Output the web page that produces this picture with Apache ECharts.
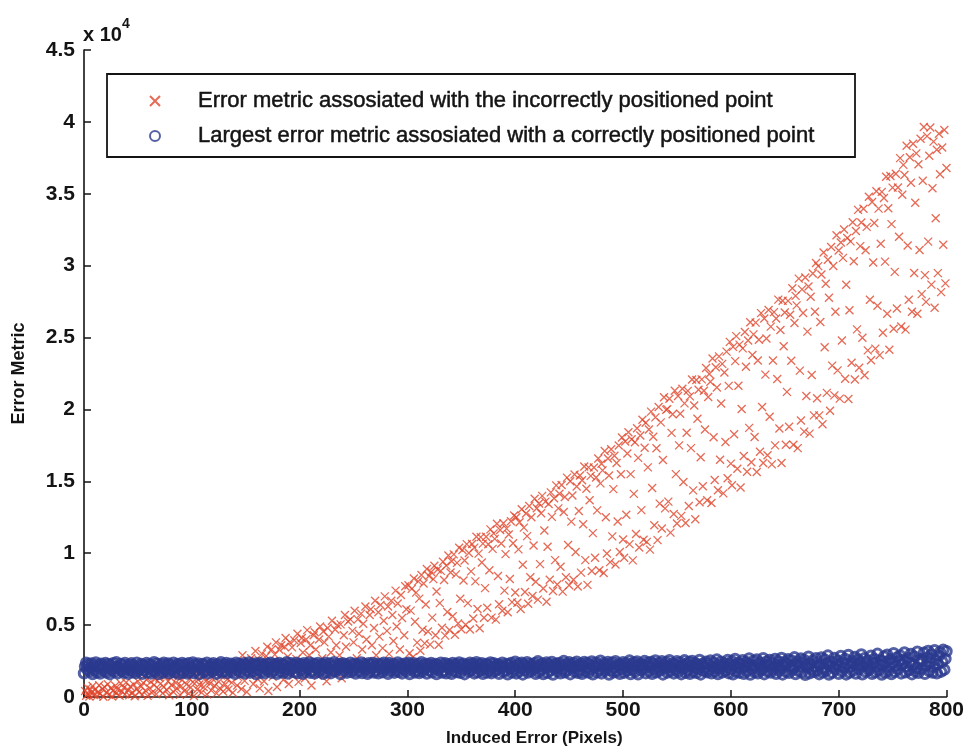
<!DOCTYPE html>
<html>
<head>
<meta charset="utf-8">
<script src="https://cdn.jsdelivr.net/npm/echarts@6/dist/echarts.min.js"></script>
<style>
  html, body { margin: 0; padding: 0; background: #fff; }
  #chart { width: 967px; height: 756px; }
</style>
</head>
<body>
<div id="chart"></div>
<script>
// Induced error (pixels) vs. error metric for the incorrectly positioned point
const redNearZero = [[1,420],[2,90],[3,650],[4,210],[5,30],[6,520],[7,310],[8,760],[9,140],[10,480],[12,60],[13,350],[14,820],[15,230],[17,560],[18,20],[19,700],[21,330],[22,890],[23,150],[25,610],[26,40],[27,430],[29,780],[30,260],[31,520],[33,90],[34,960],[35,380],[37,640],[38,180],[39,1010],[41,470],[42,120],[43,730],[45,290],[46,880],[47,50],[49,560],[50,1100],[51,340],[53,720],[54,160],[55,980],[57,450],[58,1200],[59,80],[61,620],[62,1050],[63,300],[65,840],[66,1250],[67,190],[69,560],[70,1330],[71,930],[73,260],[74,700],[75,1420],[77,480],[78,1100],[79,120],[81,830],[82,1500],[83,350],[85,990],[86,610],[87,1380],[89,150],[90,760],[91,1180],[93,420],[94,1560],[95,880],[97,240],[98,1260],[99,660],[101,1040],[102,70],[103,1610],[105,520],[106,1200],[107,870],[109,310],[110,1420],[111,690],[113,1100],[114,180],[115,1700],[117,940],[118,460],[119,1290],[121,780],[122,1850],[123,250],[125,1060],[126,620],[127,1500],[129,380],[130,1900],[131,870],[133,1230],[134,520],[135,2050],[137,1000],[138,300],[139,1700]];

const redRising = [[141,2150],[142,800],[143,1380],[145,2100],[146,560],[147,2900],[149,1120],[150,2250],[151,350],[153,2500],[154,1500],[155,2700],[157,900],[158,2350],[159,3200],[161,1250],[162,2600],[163,600],[165,3000],[166,2050],[167,1100],[169,2850],[170,3500],[171,420],[173,2250],[174,3300],[175,1400],[177,2950],[178,3800],[179,700],[181,3300],[182,2450],[183,3600],[185,1200],[186,3500],[187,4100],[189,2800],[190,900],[191,3800],[193,3450],[194,1500],[195,3950],[197,2650],[198,4400],[199,1050],[201,3750],[202,4100],[203,3100],[205,1300],[206,4000],[207,4650],[209,2900],[210,3600],[211,800],[213,4300],[214,4500],[215,3300],[217,1500],[218,4000],[219,4900],[221,2700],[222,4550],[223,3800],[225,1100],[226,4800],[227,4200],[229,3100],[230,5300],[231,1700],[233,4700],[234,3600],[235,5000],[237,2900],[238,5050],[239,1300],[241,4300],[242,5700],[243,3500],[245,5250],[246,2100],[247,5400],[249,4600],[250,3800],[251,6000],[253,2700],[254,5400],[255,4400],[257,5800],[258,3300],[259,5100],[261,6300],[262,4000],[263,2500],[265,5700],[266,6100],[267,3600],[269,4800],[270,6700],[271,2900],[273,5900],[274,4200],[275,6400],[277,3400],[278,5300],[279,7000],[281,4600],[282,6300],[283,3000],[285,6700],[286,5700],[287,3900],[289,7400],[290,4900],[291,6500],[293,3300],[294,7100],[295,5500],[297,4300],[298,7700],[299,6100]];

const redMidWedge = [[301,7770],[302,3040],[303,6010],[304,7520],[305,2770],[306,8240],[307,5230],[308,7260],[309,3780],[310,8040],[311,6840],[312,3220],[313,8480],[314,4680],[315,7890],[316,3730],[317,6430],[318,8900],[319,4550],[320,8420],
[321,3640],[322,8690],[323,5520],[324,8200],[325,9130],[326,4290],[327,7340],[328,8870],[329,3630],[330,6530],[331,8770],[332,4820],[333,9410],[334,8140],[335,4270],[336,9140],[337,5910],[338,9840],[339,4660],[340,8660],
[341,9440],[342,5620],[343,9920],[344,4330],[345,8530],[346,9330],[347,5110],[348,10380],[349,6830],[350,4710],[351,10220],[352,8100],[353,9490],[354,5030],[355,10630],[356,6530],[357,10020],[358,4700],[359,8740],[360,10640],
[361,5460],[362,10390],[363,8040],[364,11150],[365,6120],[366,9970],[367,4780],[368,11120],[369,9350],[370,10670],[371,5510],[372,7570],[373,11140],[374,6210],[375,10620],[376,8810],[377,11660],[378,5520],[379,10300],[380,11380],
[381,11000],[382,5380],[383,12050],[384,8420],[385,6450],[386,11620],[387,10680],[388,6000],[389,12080],[390,7400],[391,9940],[392,11710],[393,5900],[394,11300],[395,8210],[396,12220],[397,6600],[398,10690],[399,12620],[400,7270],
[401,12500],[402,6550],[403,10270],[404,12160],[405,6120],[406,13060],[407,9200],[408,11780],[409,7300],[410,12760],[411,11190],[412,6490],[413,13290],[414,8330],[415,12500],[416,7030],[417,10540],[418,13790],[419,8020],[420,13130],
[421,6770],[422,13460],[423,9240],[424,12780],[425,13990],[426,7550],[427,11580],[428,13590],[429,6630],[430,10450],[431,13420],[432,8150],[433,14230],[434,12530],[435,7370],[436,13820],[437,9520],[438,14720],[439,7820],[440,13120],
[441,14140],[442,9060],[443,14740],[444,7330],[445,12870],[446,13910],[447,8330],[448,15260],[449,10570],[450,7770],[451,15000],[452,12200],[453,14010],[454,8150],[455,15470],[456,10090],[457,14640],[458,7680],[459,12940],[460,15400],
[461,8650],[462,15070],[463,12020],[464,16030],[465,9520],[466,14490],[467,7800],[468,15970],[469,13680],[470,15380],[471,8760],[472,11400],[473,15960],[474,9680],[475,15270],[476,12980],[477,16590],[478,8820],[479,14860],[480,16220],
[481,15760],[482,8630],[483,17110],[484,12500],[485,9980],[486,16590],[487,15410],[488,9380],[489,17230],[490,11170],[491,14460],[492,16780],[493,9210],[494,16270],[495,12210],[496,17490],[497,10090],[498,15490],[499,18050],[500,10950],
[501,9690],[502,17770],[503,12670],[504,16940],[505,18410],[506,10630],[507,15500],[508,17930],[509,9500],[510,14130],[511,17720],[512,11340],[513,18690],[514,16630],[515,10400],[516,18190],[517,13000],[518,19280],[519,10940],[520,17340],
[521,19080],[522,10790],[523,15970],[524,18610],[525,10250],[526,19850],[527,14540],[528,18100],[529,11950],[530,19450],[531,17300],[532,10910],[533,20170],[534,13450],[535,19100],[536,11720],[537,16480],[538,20850],[539,13120],[540,19970],
[541,20020],[542,13590],[543,20740],[544,11430],[545,18370],[546,19660],[547,12730],[548,21300],[549,15500],[550,12070],[551,20940],[552,17500],[553,19700],[554,12600],[555,21440],[556,14950],[557,20420],[558,12100],[559,18380],[560,21290]];

const redUpperWedge = [[561,13290],[562,20910],[563,17310],[564,22080],[565,14370],[566,20270],[567,12360],[568,22050],[569,19350],[570,21370],[571,13540],[572,16680],[573,22090],[574,14660],[575,21300],[576,18600],[577,22880],[578,13690],[579,20860],[580,22470],
[581,21930],[582,13490],[583,23540],[584,18070],[585,15090],[586,22930],[587,21530],[588,14380],[589,23690],[590,16500],[591,20410],[592,23170],[593,14160],[594,22570],[595,17730],[596,24020],[597,15210],[598,21640],[599,24700],[600,16230],
[601,14730],[602,24350],[603,18280],[604,23360],[605,25100],[606,15880],[607,21650],[608,24510],[609,14570],[610,20030],[611,24250],[612,16760],[613,25390],[614,22970],[615,15670],[616,24790],[617,18720],[618,26060],[619,16330],[620,23790],
[621,25220],[622,18080],[623,26040],[624,15650],[625,23410],[626,24850],[627,17060],[628,26700],[629,20170],[630,16280],[631,26320],[632,22420],[633,24930],[634,16810],[635,26920],[636,19490],[637,25760],[638,16180],[639,23410],[640,26770],
[641,17500],[642,26320],[643,22120],[644,27640],[645,18670],[646,25520],[647,16270],[648,27560],[649,24400],[650,26740],[651,17550],[652,21220],[653,27550],[654,18800],[655,26590],[656,23390],[657,28430],[658,17550],[659,26010],[660,27900],
[661,27240],[662,17310],[663,29100],[664,22700],[665,19230],[666,28350],[667,26710],[668,18460],[669,29180],[670,20930],[671,25410],[672,28550],[673,18320],[674,27840],[675,22390],[676,29460],[677,19590],[678,26790],[679,30180],[680,20780],
[681,29970],[682,19590],[683,26080],[684,29380],[685,18970],[686,30920],[687,24330],[688,28740],[689,21150],[690,30410],[691,27770],[692,19910],[693,31300],[694,23050],[695,29980],[696,20980],[697,26790],[698,32120],[699,22720],[700,31050],
[701,20750],[702,31610],[703,24800],[704,30540],[705,32520],[706,22140],[707,28670],[708,31920],[709,20730],[710,26900],[711,31690],[712,23250],[713,33020],[714,30310],[715,22080],[716,32410],[717,25570],[718,33880],[719,22900],[720,31360],
[721,33000],[722,24990],[723,33960],[724,22380],[725,31070],[726,32700],[727,24110],[728,34790],[729,27630],[730,23420],[731,34430],[732,30220],[733,32970],[734,24230],[735,35170],[736,27210],[737,33970],[738,23780],[739,31530],[740,35130],
[741,25330],[742,34710],[743,30280],[744,36190],[745,26660],[746,33990],[747,24150],[748,36240],[749,32890],[750,35430],[751,25610],[752,29570],[753,36390],[754,27020],[755,35440],[756,32010],[757,37480],[758,25770],[759,34930],[760,37010],
[761,36310],[762,25550],[763,38340],[764,31400],[765,27630],[766,37540],[767,35770],[768,26800],[769,38480],[770,29490],[771,34380],[772,37810],[773,26650],[774,37050],[775,31090],[776,38830],[777,28020],[778,35910],[779,39640],[780,29340],
[781,27480],[782,39010],[783,31670],[784,37650],[785,39610],[786,28680],[787,35380],[788,38630],[789,27070],[790,33300],[791,38060],[792,29480],[793,39170],[794,36360],[795,28160],[796,38220],[797,31460],[798,39430],[799,28770],[800,36790]];

// Largest error metric among the correctly positioned points
const blueLeft = [[0,1650],[1,2120],[2,2380],[3,1920],[4,2270],[5,1780],[6,2050],[7,2330],[8,1600],[9,2180],[10,1860],[11,2400],[12,1720],[13,2090],[14,2240],[15,1630],[16,2310],[17,1970],[18,2150],[19,1810],
[20,2360],[21,1700],[22,2010],[23,2280],[24,1590],[25,2200],[26,1890],[27,2350],[28,1750],[29,2060],[30,2410],[31,1640],[32,2130],[33,1990],[34,2290],[35,1820],[36,2220],[37,1680],[38,2370],[39,1930],
[40,2080],[41,1610],[42,2250],[43,1870],[44,2340],[45,1740],[46,2170],[47,2020],[48,1660],[49,2390],[50,1800],[51,2140],[52,1950],[53,2300],[54,1620],[55,2230],[56,1850],[57,2100],[58,2360],[59,1710],
[60,1990],[61,2270],[62,1640],[63,2190],[64,1830],[65,2420],[66,1760],[67,2040],[68,2320],[69,1600],[70,2110],[71,1900],[72,2260],[73,1690],[74,2380],[75,1940],[76,2160],[77,1790],[78,2330],[79,1650],
[80,2230],[81,1880],[82,2060],[83,2390],[84,1720],[85,2150],[86,1980],[87,2300],[88,1610],[89,2210],[90,1840],[91,2370],[92,1700],[93,2090],[94,2270],[95,1920],[96,1630],[97,2350],[98,1780],[99,2120],
[100,2010],[101,2400],[102,1670],[103,2240],[104,1860],[105,2180],[106,2330],[107,1590],[108,2070],[109,1950],[110,2290],[111,1730],[112,2200],[113,1820],[114,2380],[115,1640],[116,2130],[117,2000],[118,2260],[119,1770],
[120,2340],[121,1910],[122,2100],[123,1620],[124,2280],[125,1850],[126,2190],[127,2410],[128,1700],[129,2030],[130,2250],[131,1800],[132,2360],[133,1660],[134,2140],[135,1960],[136,2310],[137,1750],[138,2080],[139,2220],
[140,1610],[141,2390],[142,1880],[143,2050],[144,2300],[145,1720],[146,2170],[147,1990],[148,2350],[149,1640],[150,2230],[151,1830],[152,2120],[153,2400],[154,1690],[155,2000],[156,2270],[157,1790],[158,2160],[159,2330],
[160,1600],[161,2210],[162,1900],[163,2370],[164,1740],[165,2090],[166,2260],[167,1650],[168,2180],[169,1940],[170,2320],[171,1810],[172,2040],[173,2390],[174,1680],[175,2240],[176,1860],[177,2110],[178,2290],[179,1620],
[180,2150],[181,2360],[182,1760],[183,2020],[184,2280],[185,1700],[186,2200],[187,1920],[188,2410],[189,1630],[190,2100],[191,1840],[192,2340],[193,1980],[194,2230],[195,1730],[196,2170],[197,2380],[198,1660],[199,2060],
[200,2300],[201,1870],[202,2190],[203,1610],[204,2350],[205,1790],[206,2080],[207,2250],[208,1950],[209,2400],[210,1680],[211,2140],[212,1820],[213,2310],[214,1640],[215,2220],[216,2010],[217,2370],[218,1750],[219,2120],
[220,1900],[221,2280],[222,1620],[223,2200],[224,2390],[225,1720],[226,2060],[227,1980],[228,2330],[229,1660],[230,2160],[231,1850],[232,2410],[233,1770],[234,2240],[235,1930],[236,2090],[237,2300],[238,1600],[239,2180],
[240,2350],[241,1810],[242,2020],[243,2270],[244,1690],[245,2130],[246,1960],[247,2380],[248,1740],[249,2210],[250,1880],[251,2320],[252,1630],[253,2070],[254,2260],[255,1790],[256,2170],[257,2400],[258,1670],[259,2040],
[260,2290],[261,1890],[262,2150],[263,1610],[264,2340],[265,1760],[266,2230],[267,2000],[268,2370],[269,1700],[270,2110],[271,1840],[272,2310],[273,1650],[274,2190],[275,1970],[276,2280],[277,1730],[278,2390],[279,1920],
[280,2080],[281,2250],[282,1620],[283,2360],[284,1810],[285,2140],[286,1990],[287,2300],[288,1690],[289,2210],[290,1870],[291,2400],[292,1750],[293,2050],[294,2270],[295,1640],[296,2180],[297,1930],[298,2330],[299,1780],
[300,2120],[301,2380],[302,1600],[303,2240],[304,1900],[305,2060],[306,2350],[307,1710],[308,2160],[309,1830],[310,2290],[311,1670],[312,2010],[313,2410],[314,1760],[315,2200],[316,1950],[317,2320],[318,1630],[319,2100],
[320,2260],[321,1850],[322,2370],[323,1720],[324,2140],[325,1990],[326,2300],[327,1600],[328,2230],[329,1880],[330,2040],[331,2390],[332,1700],[333,2170],[334,1820],[335,2340],[336,1650],[337,2090],[338,2270],[339,1930],
[340,2180],[341,1620],[342,2360],[343,1800],[344,2110],[345,2280],[346,1740],[347,2030],[348,2400],[349,1680],[350,2210],[351,1910],[352,2320],[353,1590],[354,2150],[355,1970],[356,2250],[357,1770],[358,2380],[359,1860],
[360,2070],[361,2310],[362,1640],[363,2190],[364,2420],[365,1730],[366,2000],[367,2260],[368,1830],[369,2350],[370,1610],[371,2120],[372,1950],[373,2290],[374,1700],[375,2230],[376,1880],[377,2400],[378,1660],[379,2080],
[380,2340],[381,1790],[382,2160],[383,1920],[384,2270],[385,1620],[386,2200],[387,2050],[388,2390],[389,1750],[390,2110],[391,1860],[392,2300],[393,1580],[394,2240],[395,1990],[396,2360],[397,1710],[398,2130],[399,1900]];

const blueRight = [[400,2450],[401,1640],[402,2180],[403,2310],[404,1780],[405,2020],[406,2380],[407,1570],[408,2250],[409,1880],[410,2130],[411,2420],[412,1700],[413,2060],[414,2290],[415,1810],[416,2200],[417,1960],[418,2350],[419,1620],
[420,2100],[421,2480],[422,1740],[423,2230],[424,1900],[425,2330],[426,1600],[427,2170],[428,2040],[429,2400],[430,1680],[431,2260],[432,1850],[433,2120],[434,2440],[435,1560],[436,2210],[437,1980],[438,2320],[439,1790],
[440,2060],[441,2370],[442,1650],[443,2190],[444,1920],[445,2500],[446,1720],[447,2280],[448,1870],[449,2140],[450,2410],[451,1590],[452,2240],[453,2010],[454,2350],[455,1760],[456,2090],[457,2460],[458,1680],[459,2200],
[460,1840],[461,2310],[462,1610],[463,2150],[464,2430],[465,1790],[466,2030],[467,2360],[468,1700],[469,2250],[470,1930],[471,2470],[472,1580],[473,2180],[474,2080],[475,2390],[476,1730],[477,2220],[478,1890],[479,2520],
[480,1640],[481,2120],[482,2340],[483,1810],[484,2270],[485,1990],[486,2440],[487,1560],[488,2200],[489,1870],[490,2380],[491,1710],[492,2060],[493,2490],[494,1780],[495,2160],[496,2300],[497,1620],[498,2230],[499,1950],
[500,2420],[501,1690],[502,2140],[503,2350],[504,1830],[505,2050],[506,2530],[507,1600],[508,2260],[509,1920],[510,2400],[511,1750],[512,2180],[513,2470],[514,1580],[515,2110],[516,2320],[517,1860],[518,2240],[519,2010],
[520,2500],[521,1660],[522,2190],[523,2380],[524,1780],[525,2080],[526,2440],[527,1620],[528,2290],[529,1940],[530,2540],[531,1720],[532,2150],[533,2350],[534,1840],[535,2030],[536,2480],[537,1570],[538,2220],[539,1980],
[540,2410],[541,1700],[542,2170],[543,2560],[544,1800],[545,2060],[546,2330],[547,1640],[548,2260],[549,1910],[550,2490],[551,1750],[552,2120],[553,2400],[554,1590],[555,2210],[556,2000],[557,2550],[558,1690],[559,2280],
[560,1850],[561,2430],[562,1610],[563,2150],[564,2500],[565,1760],[566,2070],[567,2360],[568,1680],[569,2240],[570,1950],[571,2580],[572,1570],[573,2190],[574,2320],[575,1820],[576,2040],[577,2460],[578,1730],[579,2270],
[580,1890],[581,2530],[582,1650],[583,2130],[584,2390],[585,1780],[586,2020],[587,2600],[588,1600],[589,2230],[590,1970],[591,2450],[592,1710],[593,2170],[594,2340],[595,1840],[596,2090],[597,2570],[598,1660],[599,2300],
[600,1920],[601,2480],[602,1580],[603,2200],[604,2640],[605,1770],[606,2060],[607,2380],[608,1690],[609,2270],[610,1990],[611,2550],[612,1620],[613,2140],[614,2430],[615,1810],[616,2320],[617,2680],[618,1560],[619,2210],
[620,1950],[621,2510],[622,1740],[623,2100],[624,2600],[625,1650],[626,2290],[627,2400],[628,1860],[629,2020],[630,2700],[631,1590],[632,2230],[633,2460],[634,1780],[635,2150],[636,2580],[637,1700],[638,2350],[639,1900],
[640,2080],[641,2650],[642,1620],[643,2250],[644,2490],[645,1830],[646,2010],[647,2720],[648,1570],[649,2190],[650,2420],[651,1760],[652,2300],[653,2620],[654,1680],[655,2120],[656,2540],[657,1890],[658,2040],[659,2760],
[660,1600],[661,2270],[662,2470],[663,1800],[664,2160],[665,2680],[666,1710],[667,2360],[668,2580],[669,1550],[670,2220],[671,2050],[672,2800],[673,1650],[674,2310],[675,1940],[676,2530],[677,1750],[678,2130],[679,2690],
[680,1860],[681,2410],[682,1590],[683,2240],[684,2750],[685,1720],[686,2000],[687,2600],[688,1820],[689,2340],[690,2880],[691,1560],[692,2180],[693,2460],[694,1690],[695,2090],[696,2720],[697,1930],[698,2280],[699,2520],
[700,1610],[701,2150],[702,2850],[703,1780],[704,2390],[705,2030],[706,2640],[707,1570],[708,2250],[709,2920],[710,1700],[711,2110],[712,2500],[713,1840],[714,2330],[715,2780],[716,1630],[717,2200],[718,2600],[719,1950],
[720,2430],[721,2960],[722,1580],[723,2170],[724,2700],[725,1760],[726,2300],[727,2520],[728,1880],[729,2050],[730,2870],[731,1620],[732,2380],[733,2650],[734,1730],[735,2140],[736,3000],[737,1860],[738,2260],[739,2560],
[740,1560],[741,2200],[742,2810],[743,1700],[744,2440],[745,2940],[746,1810],[747,2080],[748,2620],[749,1600],[750,2350],[751,3050],[752,1750],[753,2190],[754,2740],[755,1920],[756,2480],[757,2880],[758,1640],[759,2290],
[760,2580],[761,3100],[762,1720],[763,2130],[764,2690],[765,1870],[766,2400],[767,2990],[768,1590],[769,2250],[770,2820],[771,1780],[772,2020],[773,3150],[774,1680],[775,2340],[776,2630],[777,1950],[778,2500],[779,3080],
[780,1610],[781,2200],[782,2750],[783,3200],[784,1800],[785,2410],[786,2960],[787,1700],[788,2100],[789,3250],[790,2550],[791,1650],[792,2300],[793,2870],[794,3120],[795,1760],[796,2450],[797,3280],[798,1900],[799,2650],[800,3180]];

const xTicks = { min: 0, max: 800, step: 100 };
const yTicks = { min: 0, max: 45000, step: 5000, scale: 10000 };
const legendNames = [
  'Error metric assosiated with the incorrectly positioned point',
  'Largest error metric assosiated with a correctly positioned point'
];

const RED = '#e0452a';
const BLUE = '#2a3a8f';
const INK = '#141414';
const FONT = "'Liberation Sans', Arial, Helvetica, sans-serif";

const incorrectPoints = redNearZero.concat(redRising, redMidWedge, redUpperWedge);
const correctPoints = blueLeft.concat(blueRight);

const chart = echarts.init(document.getElementById('chart'), null, { renderer: 'canvas' });

chart.setOption({
  animation: false,
  backgroundColor: '#ffffff',
  grid: { left: 84, right: 20, top: 50, bottom: 59, containLabel: false },
  xAxis: {
    type: 'value',
    min: xTicks.min, max: xTicks.max, interval: xTicks.step,
    name: 'Induced Error (Pixels)',
    nameLocation: 'middle',
    nameGap: 33,
    nameTextStyle: { fontFamily: FONT, fontSize: 17, fontWeight: 'bold', color: INK, padding: [0, 0, 0, 38] },
    axisLine: { show: true, onZero: false, lineStyle: { color: INK, width: 1.6 } },
    axisTick: { show: true, inside: true, length: 7, lineStyle: { color: INK, width: 1.5 } },
    splitLine: { show: false },
    axisLabel: { fontFamily: FONT, fontSize: 21, fontWeight: 'bold', color: INK, margin: 3 }
  },
  yAxis: {
    type: 'value',
    min: yTicks.min, max: yTicks.max, interval: yTicks.step,
    name: 'Error Metric',
    nameLocation: 'middle',
    nameRotate: 90,
    nameGap: 56,
    nameTextStyle: { fontFamily: FONT, fontSize: 18, fontWeight: 'bold', color: INK },
    axisLine: { show: true, onZero: false, lineStyle: { color: INK, width: 1.6 } },
    axisTick: { show: true, inside: true, length: 7, lineStyle: { color: INK, width: 1.5 } },
    splitLine: { show: false },
    axisLabel: {
      fontFamily: FONT, fontSize: 21, fontWeight: 'bold', color: INK, margin: 9,
      formatter: v => String(v / yTicks.scale)
    }
  },
  legend: {
    orient: 'vertical',
    left: 149,
    top: 89,
    padding: 0,
    itemGap: 11,
    itemWidth: 76,
    itemHeight: 10,
    z: 20,
    data: [
      { name: legendNames[0] },
      { name: legendNames[1], itemStyle: { borderWidth: 2 } }
    ],
    textStyle: {
      fontFamily: FONT, fontSize: 22, color: INK, lineHeight: 24,
      textBorderColor: INK, textBorderWidth: 0.5
    },
    selectedMode: false
  },
  graphic: [
    {
      type: 'rect', z: 15,
      shape: { x: 107, y: 74, width: 748, height: 83 },
      style: { fill: '#ffffff', stroke: INK, lineWidth: 1.8 }
    },
    {
      type: 'text', z: 15, left: 83, top: 25,
      style: { text: 'x 10', font: 'bold 20px ' + FONT, fill: INK }
    },
    {
      type: 'text', z: 15, left: 122, top: 17,
      style: { text: '4', font: 'bold 14px ' + FONT, fill: INK }
    }
  ],
  series: [
    {
      name: legendNames[0],
      type: 'scatter',
      data: incorrectPoints,
      symbol: 'path://M0,0L10,10M10,0L0,10',
      symbolSize: 8,
      silent: true,
      z: 2,
      itemStyle: { color: 'rgba(0,0,0,0)', borderColor: RED, borderWidth: 1.3 }
    },
    {
      name: legendNames[1],
      type: 'scatter',
      data: correctPoints,
      symbol: 'circle',
      symbolSize: 9.5,
      silent: true,
      z: 3,
      itemStyle: { color: 'rgba(0,0,0,0)', borderColor: BLUE, borderWidth: 3 }
    }
  ]
});
</script>
</body>
</html>
